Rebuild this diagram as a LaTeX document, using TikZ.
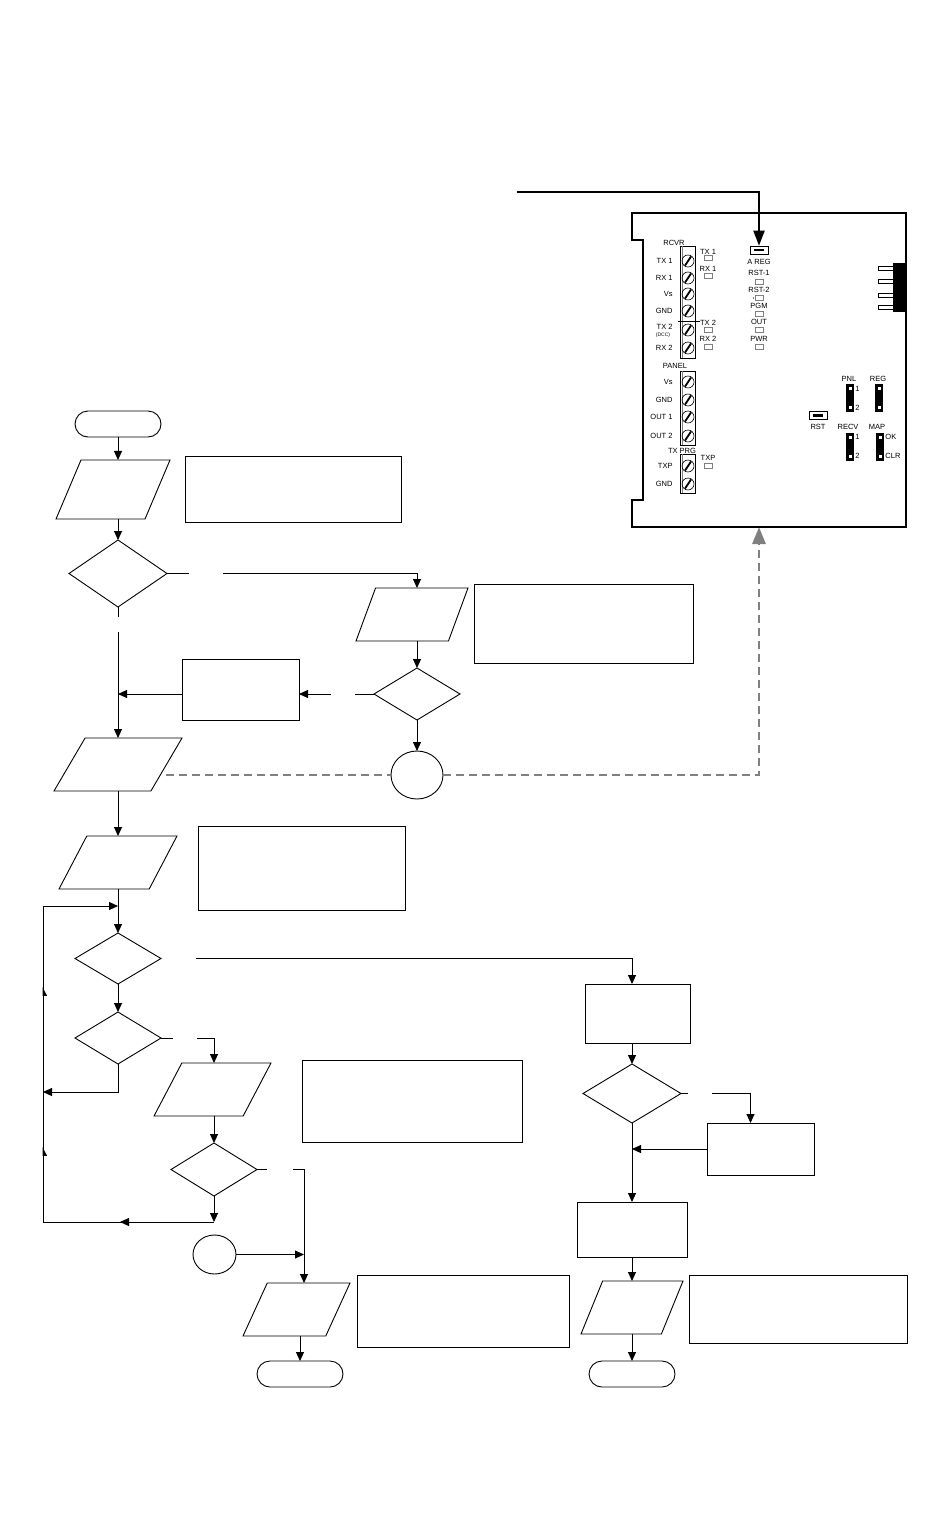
\documentclass[tikz,border=0pt]{standalone}
\usepackage{fontspec}
\setmainfont{Liberation Sans}
\usetikzlibrary{decorations.markings}
\usetikzlibrary{calc}
\usetikzlibrary{shapes.geometric}
\usetikzlibrary{arrows.meta}

\tikzset{
    flow/.style={draw, line width=0.9pt, inner sep=0pt, outer sep=0pt},
    term/.style={flow, rectangle, rounded corners=13pt, minimum width=86pt, minimum height=26pt},
    io/.style={flow, trapezium, inner sep=2pt, trapezium stretches=true, trapezium left angle=#1, trapezium right angle={180-#1}, minimum height=53pt},
    dec/.style={flow, diamond},
    act/.style={flow, rectangle},
    conn/.style={flow, ellipse},
    regline/.style={draw=gray, line width=2.8pt, dash pattern=on 8pt off 5pt},
    tag/.style={font=\fontsize{7.5}{7.5}\selectfont, inner sep=0pt},
    led/.style={draw=gray, line width=0.5pt},
    slide/.style={draw, line width=0.6pt, inner sep=0pt, minimum width=18pt, minimum height=8pt}
}

\begin{document}
\begin{tikzpicture}[x=1pt, y=-1pt, >={Triangle[length=9pt, width=8pt]}, line width=0.9pt]
    \useasboundingbox (0, 0) rectangle (950, 1525);
    \fill[white] (0, 0) rectangle (950, 1525);

    \draw (118, 424) node[term] (start) {};
    \draw (113, 489.5) node[io=68.7, minimum width=114pt, minimum height=59pt] (inp1) {};
    \draw (293, 489) node[act, minimum width=216pt, minimum height=66pt] (note1) {};
    \draw (118, 573.5) node[dec, minimum width=98pt, minimum height=67pt] (chk1) {};
    \draw (412, 614.5) node[io=75, minimum width=112pt] (inp2) {};
    \draw (583.5, 623.5) node[act, minimum width=219pt, minimum height=79pt] (note2) {};
    \draw (417, 694) node[dec, minimum width=86pt, minimum height=52pt] (chk2) {};
    \draw (240.5, 689.5) node[act, minimum width=117pt, minimum height=61pt] (fix) {};
    \draw (417, 775) node[conn, minimum width=52pt, minimum height=48pt] (conn1) {};
    \draw (118, 764.5) node[io=64.7, minimum width=128pt] (inp3) {};
    \draw (118, 862.5) node[io=66, minimum width=118pt] (inp4) {};
    \draw (301.5, 868) node[act, minimum width=207pt, minimum height=84pt] (note3) {};
    \draw (118, 958.5) node[dec, minimum width=86pt, minimum height=51pt] (chk3) {};
    \draw (118, 1038) node[dec, minimum width=86pt, minimum height=52pt] (chk4) {};
    \draw (212.5, 1089.5) node[io=65.6, minimum width=117pt] (inp5) {};
    \draw (412, 1101) node[act, minimum width=220pt, minimum height=82pt] (note4) {};
    \draw (214, 1169.5) node[dec, minimum width=86pt, minimum height=53pt] (chk5) {};
    \draw (214.5, 1254.5) node[conn, minimum width=43pt, minimum height=39pt] (conn2) {};
    \draw (296.5, 1309.5) node[io=67.5, minimum width=107pt] (inp6) {};
    \draw (463, 1311) node[act, minimum width=212pt, minimum height=72pt] (note5) {};
    \draw (300, 1374) node[term] (stop1) {};
    \draw (637.5, 1013.5) node[act, minimum width=105pt, minimum height=59pt] (act1) {};
    \draw (632, 1093.5) node[dec, minimum width=98pt, minimum height=59pt] (chk6) {};
    \draw (760.5, 1149) node[act, minimum width=107pt, minimum height=52pt] (act2) {};
    \draw (632, 1229.5) node[act, minimum width=110pt, minimum height=55pt] (act3) {};
    \draw (632, 1307.5) node[io=69.8, minimum width=102pt] (inp7) {};
    \draw (798, 1309) node[act, minimum width=218pt, minimum height=68pt] (note6) {};
    \draw (632, 1374) node[term] (stop2) {};

    \coordinate (looptop) at (43, 906);
    \coordinate (loopbot) at (43, 1222);
    \coordinate (regin) at (759, 527);
    \coordinate (pointer) at (517, 192);

    \draw[->] (start) -- (start |- inp1.north);
    \draw[->] (inp1.south -| chk1) -- (chk1);
    \draw (chk1.east) -- ++(22, 0) coordinate (g1);
    \draw[->] ($(g1) + (34, 0)$) -| (chk2 |- inp2.north);
    \draw[->] (inp2.south -| chk2) -- (chk2);
    \draw (chk2.west) -- ++(-19, 0) coordinate (g2);
    \draw[->] ($(g2) + (-24, 0)$) -- (g2 -| fix.east);
    \draw[->] (fix.west |- chk2) -- (chk1 |- chk2);
    \draw (chk1.south) -- ++(0, 10) coordinate (g3);
    \draw[->] ($(g3) + (0, 15)$) -- (inp3);
    \draw[->] (chk2) -- (conn1);
    \draw[regline] (inp3.east |- conn1) -- (conn1);
    \draw[regline, -{Triangle[length=17pt, width=13pt]}] (conn1) -| (regin);
    \draw[->] (inp3) -- (inp4);
    \draw[->] (inp4) -- (chk3);
    \draw[->] (chk3) -- (chk4);
    \draw[->] ($(chk3.east) + (35, 0)$) -| (chk6 |- act1.north);
    \draw (chk4.east) -- ++(12, 0) coordinate (g4);
    \draw[->] ($(g4) + (24, 0)$) -| (chk5 |- inp5.north);
    \draw[->] (chk4.south) -- ++(0, 28) coordinate (g5) -- (g5 -| loopbot);
    \draw[->] (inp5.south -| chk5) -- (chk5);
    \draw (chk5.east) -- ++(10, 0) coordinate (g6);
    \draw[->] ($(g6) + (26, 0)$) -- ++(11, 0) coordinate (j6) -- (j6 |- inp6.north);
    \draw[->] (conn2) -- (conn2 -| j6);
    \draw[->] (chk5) -- (chk5 |- loopbot);
    \begin{scope}[decoration={
        markings,
        mark=at position 94pt with {\arrow{>}},
        mark=at position 246pt with {\arrow{Triangle[harpoon, swap, length=8pt, width=8pt]}},
        mark=at position 406pt with {\arrow{Triangle[harpoon, swap, length=8pt, width=8pt]}}}]
        \draw[->, postaction={decorate}] (chk5 |- loopbot) -- (loopbot) -- (looptop) -- (looptop -| chk3);
    \end{scope}
    \draw[->] (inp6.south -| stop1) -- (stop1);
    \draw[->] (act1.south -| chk6) -- (chk6);
    \draw (chk6.east) -- ++(7, 0) coordinate (g7);
    \draw[->] ($(g7) + (24, 0)$) -| ([xshift=-10pt]act2.north);
    \draw[->] (act2.west) -- (act2.west -| chk6);
    \draw[->] (chk6) -- (chk6 |- act3.north);
    \draw[->] (act3) -- (inp7);
    \draw[->] (inp7) -- (stop2);

    \draw[line width=2pt] (632, 213) -- (906, 213) -- (906, 527) -- (632, 527) -- (632, 500) -- (643, 500) -- (643, 240) -- (632, 240) -- cycle;
    \foreach \ya/\yb in {246/358, 371/445, 454/493} {
        \draw[line width=0.5pt] (680, \ya) rectangle (695, \yb);
        \draw[line width=0.3pt, gray] (682.5, \ya) -- (682.5, \yb);
    }
    \draw[line width=0.5pt] (678, 321) -- (700, 321);
    \foreach \y in {261, 278, 294, 311, 330, 348, 382, 400, 417, 436, 466, 484} {
        \draw[line width=0.6pt] (688, \y) circle (6pt);
        \draw[line width=1.8pt] (685, \y + 4.5) -- (691, \y - 4.5);
    }
    \foreach \lbl/\y in {TX 1/261, RX 1/278, Vs/294, GND/311, TX 2/327, RX 2/348, Vs/382, GND/400, OUT 1/417, OUT 2/436, TXP/466, GND/484}
        \draw (673, \y) node[tag, anchor=east] (l\y) {\lbl};
    \draw (663, 335) node[tag, font=\fontsize{5}{5}\selectfont] (dcc) {(DCC)};
    \draw (674, 243) node[tag] (rcvr) {RCVR};
    \draw (675, 366) node[tag] (panel) {PANEL};
    \draw (682, 451) node[tag] (txprg) {TX PRG};
    \foreach \lbl/\y in {TX 1/252, RX 1/269, TX 2/323, RX 2/339, TXP/458}
        \draw (708, \y) node[tag] (r\y) {\lbl};
    \foreach \x/\y in {708/258, 708/276, 708/330, 708/347, 708/466, 759/282, 759/298, 759/314, 759/330, 759/347}
        \draw[led] (\x - 4, \y - 2.5) rectangle (\x + 4, \y + 2.5);
    \foreach \lbl/\y in {A REG/262, RST-1/273, RST-2/290, PGM/306, OUT/322, PWR/339}
        \draw (759, \y) node[tag] (m\y) {\lbl};
    \fill (753.5, 298) circle (0.7pt);

    \draw (759, 250) node[slide] (areg) {\rule{10pt}{2.5pt}};
    \draw (818, 415.5) node[slide] (rst) {\rule{10pt}{2.5pt}};
    \fill (893, 263) rectangle (906, 312);
    \foreach \y in {268, 281, 295, 307}
        \draw[line width=0.5pt, fill=white] (878, \y - 2) rectangle (893, \y + 2);
    \foreach \x/\y in {850/398, 879/398, 850/447, 880/447} {
        \fill (\x - 4, \y - 14) rectangle (\x + 4, \y + 14);
        \fill[white] (\x - 1.5, \y - 11) rectangle (\x + 1.5, \y - 8);
        \fill[white] (\x - 1.5, \y + 8) rectangle (\x + 1.5, \y + 11);
    }
    \foreach \lbl/\x/\y in {PNL/849/379, REG/878/379, RST/818/427, RECV/848/427, MAP/877/427}
        \draw (\x, \y) node[tag] (j\lbl) {\lbl};
    \foreach \lbl/\y in {1/389, 2/408, 1/437, 2/456}
        \draw (855, \y) node[tag, anchor=west] (n\y) {\lbl};
    \draw (885, 437) node[tag, anchor=west] (ok) {OK};
    \draw (885, 456) node[tag, anchor=west] (clr) {CLR};

    \draw[line width=2pt, -{Triangle[length=15pt, width=11pt]}] (pointer) -| (areg.north);
\end{tikzpicture}
\end{document}
